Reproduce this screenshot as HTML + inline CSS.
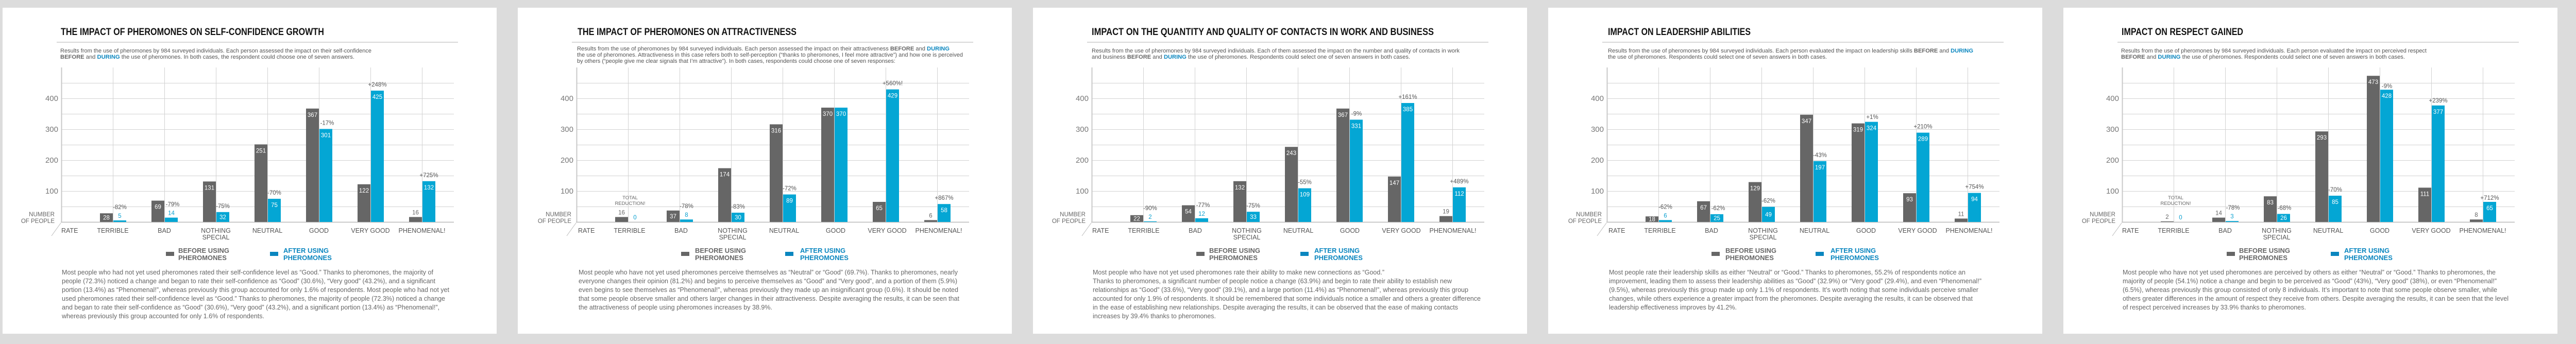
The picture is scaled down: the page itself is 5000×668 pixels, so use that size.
<!DOCTYPE html>
<html><head><meta charset="utf-8"><style>
html,body{margin:0;padding:0;background:#dcdcdc}
svg{display:block}
text{font-family:"Liberation Sans",sans-serif}
.t{font-size:19px;font-weight:bold;fill:#111}
.s{font-size:11px;fill:#555}
.b{font-weight:bold;fill:#666}
.d{font-weight:bold;fill:#0a86bf}
.tk{font-size:15px;fill:#777;text-anchor:end}
.np{font-size:11.5px;fill:#666;text-anchor:end}
.xl{font-size:12.5px;fill:#555;text-anchor:middle}
.lg{font-size:13px;font-weight:bold;fill:#666}
.lb{font-size:13px;font-weight:bold;fill:#0a86bf}
.p{font-size:12.5px;fill:#666}
.vi{font-size:11.5px;fill:#fff;text-anchor:middle}
.vg{font-size:11.5px;fill:#666;text-anchor:middle}
.vb{font-size:11.5px;fill:#0aa0d0;text-anchor:middle}
.pc{font-size:11.5px;fill:#555;text-anchor:middle}
.tr{font-size:9.5px;fill:#666;text-anchor:middle}
</style></head><body>
<svg width="5000" height="668" viewBox="0 0 5000 668" xmlns="http://www.w3.org/2000/svg">
<rect width="5000" height="668" fill="#dcdcdc"/>
<defs>
<g id="fr">
<rect x="5" y="15" width="959" height="633" fill="#fff"/>
<line x1="110" y1="82" x2="889" y2="82" stroke="#ccc" stroke-width="1.5"/>
<g stroke="#d2d2d2" stroke-width="1">
<path d="M119 161.5H881M119 191.5H881M119 221.5H881M119 251.5H881M119 281.5H881M119 311.5H881M119 341.5H881M119 371.5H881M119 401.5H881"/>
<path d="M219.5 131V431M319.5 131V431M419.5 131V431M519.5 131V431M619.5 131V431M719.5 131V431M819.5 131V431"/>
</g>
<path d="M119.5 131V432M118 431.5H881" stroke="#c8c8c8" stroke-width="2" fill="none"/>
<line x1="100" y1="458" x2="118" y2="433" stroke="#bbb" stroke-width="1"/>
<rect x="322" y="489" width="16" height="8" fill="#666"/>
<rect x="524" y="489" width="16" height="8" fill="#0a86bf"/>
</g>
</defs>

<!-- PANEL 1 -->
<g>
<use href="#fr"/>
<text class="t" x="118" y="68" textLength="511" lengthAdjust="spacingAndGlyphs">THE IMPACT OF PHEROMONES ON SELF-CONFIDENCE GROWTH</text>
<text class="s" x="117" y="102" textLength="604" lengthAdjust="spacingAndGlyphs">Results from the use of pheromones by 984 surveyed individuals. Each person assessed the impact on their self-confidence</text>
<text class="s" x="117" y="114" textLength="571" lengthAdjust="spacingAndGlyphs"><tspan class="b">BEFORE</tspan> and <tspan class="d">DURING</tspan> the use of pheromones. In both cases, the respondent could choose one of seven answers.</text>
<text class="tk" x="113" y="196">400</text><text class="tk" x="113" y="256">300</text><text class="tk" x="113" y="316">200</text><text class="tk" x="113" y="376">100</text>
<text class="np" x="106" y="420">NUMBER</text><text class="np" x="106" y="433">OF PEOPLE</text>
<text class="xl" x="119" y="452" style="text-anchor:start">RATE</text>
<text class="xl" x="219" y="452">TERRIBLE</text><text class="xl" x="319" y="452">BAD</text><text class="xl" x="419" y="452">NOTHING</text><text class="xl" x="419" y="465">SPECIAL</text><text class="xl" x="519" y="452">NEUTRAL</text><text class="xl" x="619" y="452">GOOD</text><text class="xl" x="719" y="452">VERY GOOD</text><text class="xl" x="819" y="452">PHENOMENAL!</text>
<text class="lg" x="346" y="491">BEFORE USING</text><text class="lg" x="346" y="505">PHEROMONES</text>
<text class="lb" x="550" y="491">AFTER USING</text><text class="lb" x="550" y="505">PHEROMONES</text>
<g fill="#666"><rect x="194" y="414.2" width="25" height="16.8"/><rect x="294" y="389.6" width="25" height="41.4"/><rect x="394" y="352.4" width="25" height="78.6"/><rect x="494" y="280.4" width="25" height="150.6"/><rect x="594" y="210.8" width="25" height="220.2"/><rect x="694" y="357.8" width="25" height="73.2"/><rect x="794" y="421.4" width="25" height="9.6"/></g>
<g fill="#04a6d4"><rect x="220" y="428" width="25" height="3"/><rect x="320" y="422.6" width="25" height="8.4"/><rect x="420" y="411.8" width="25" height="19.2"/><rect x="520" y="386" width="25" height="45"/><rect x="620" y="250.4" width="25" height="180.6"/><rect x="720" y="176" width="25" height="255"/><rect x="820" y="351.8" width="25" height="79.2"/></g>
<text class="vi" x="206.5" y="426.6">28</text><text class="vi" x="306.5" y="405.6">69</text><text class="vi" x="406.5" y="368.4">131</text><text class="vi" x="506.5" y="296.4">251</text><text class="vi" x="606.5" y="226.8">367</text><text class="vi" x="706.5" y="373.8">122</text><text class="vg" x="806.5" y="416.4">16</text>
<text class="vb" x="232.5" y="423">5</text><text class="vb" x="332.5" y="417.6">14</text><text class="vi" x="432.5" y="425.4">32</text><text class="vi" x="532.5" y="402">75</text><text class="vi" x="632.5" y="266.4">301</text><text class="vi" x="732.5" y="192">425</text><text class="vi" x="832.5" y="367.8">132</text>
<text class="pc" x="232.5" y="406">-82%</text><text class="pc" x="335" y="400.6">-79%</text><text class="pc" x="432.5" y="403.8">-75%</text><text class="pc" x="532.5" y="378">-70%</text><text class="pc" x="635" y="242.4">-17%</text><text class="pc" x="732.5" y="168">+248%</text><text class="pc" x="832.5" y="343.8">+725%</text>
<text class="p" x="120" y="533" textLength="721" lengthAdjust="spacingAndGlyphs">Most people who had not yet used pheromones rated their self-confidence level as “Good.” Thanks to pheromones, the majority of</text>
<text class="p" x="120" y="550" textLength="725" lengthAdjust="spacingAndGlyphs">people (72.3%) noticed a change and began to rate their self-confidence as “Good” (30.6%), “Very good” (43.2%), and a significant</text>
<text class="p" x="120" y="567" textLength="752" lengthAdjust="spacingAndGlyphs">portion (13.4%) as “Phenomenal!”, whereas previously this group accounted for only 1.6% of respondents. Most people who had not yet</text>
<text class="p" x="120" y="584" textLength="744" lengthAdjust="spacingAndGlyphs">used pheromones rated their self-confidence level as “Good.” Thanks to pheromones, the majority of people (72.3%) noticed a change</text>
<text class="p" x="120" y="601" textLength="733" lengthAdjust="spacingAndGlyphs">and began to rate their self-confidence as “Good” (30.6%), “Very good” (43.2%), and a significant portion (13.4%) as “Phenomenal!”,</text>
<text class="p" x="120" y="618" textLength="393" lengthAdjust="spacingAndGlyphs">whereas previously this group accounted for only 1.6% of respondents.</text>
</g>

<!-- PANEL 2 -->
<g transform="translate(1000,0)">
<use href="#fr"/>
<text class="t" x="121" y="68" textLength="425" lengthAdjust="spacingAndGlyphs">THE IMPACT OF PHEROMONES ON ATTRACTIVENESS</text>
<text class="s" x="120" y="98" textLength="723" lengthAdjust="spacingAndGlyphs">Results from the use of pheromones by 984 surveyed individuals. Each person assessed the impact on their attractiveness <tspan class="b">BEFORE</tspan> and <tspan class="d">DURING</tspan></text>
<text class="s" x="120" y="110" textLength="749" lengthAdjust="spacingAndGlyphs">the use of pheromones. Attractiveness in this case refers both to self-perception (“thanks to pheromones, I feel more attractive”) and how one is perceived</text>
<text class="s" x="120" y="122" textLength="618" lengthAdjust="spacingAndGlyphs">by others (“people give me clear signals that I’m attractive”). In both cases, respondents could choose one of seven responses:</text>
<text class="tk" x="113" y="196">400</text><text class="tk" x="113" y="256">300</text><text class="tk" x="113" y="316">200</text><text class="tk" x="113" y="376">100</text>
<text class="np" x="109" y="420">NUMBER</text><text class="np" x="109" y="433">OF PEOPLE</text>
<text class="xl" x="122" y="452" style="text-anchor:start">RATE</text>
<text class="xl" x="222" y="452">TERRIBLE</text><text class="xl" x="322" y="452">BAD</text><text class="xl" x="422" y="452">NOTHING</text><text class="xl" x="422" y="465">SPECIAL</text><text class="xl" x="522" y="452">NEUTRAL</text><text class="xl" x="622" y="452">GOOD</text><text class="xl" x="722" y="452">VERY GOOD</text><text class="xl" x="822" y="452">PHENOMENAL!</text>
<text class="lg" x="349" y="491">BEFORE USING</text><text class="lg" x="349" y="505">PHEROMONES</text>
<text class="lb" x="553" y="491">AFTER USING</text><text class="lb" x="553" y="505">PHEROMONES</text>
<g fill="#666"><rect x="194" y="421.4" width="25" height="9.6"/><rect x="294" y="408.8" width="25" height="22.2"/><rect x="394" y="326.6" width="25" height="104.4"/><rect x="494" y="241.4" width="25" height="189.6"/><rect x="594" y="209" width="25" height="222"/><rect x="694" y="392" width="25" height="39"/><rect x="794" y="427.4" width="25" height="3.6"/></g>
<g fill="#04a6d4"><rect x="320" y="426.2" width="25" height="4.8"/><rect x="420" y="413" width="25" height="18"/><rect x="520" y="377.6" width="25" height="53.4"/><rect x="620" y="209" width="25" height="222"/><rect x="720" y="173.6" width="25" height="257.4"/><rect x="820" y="396.2" width="25" height="34.8"/></g>
<text class="vg" x="206.5" y="416.4">16</text><text class="vi" x="306.5" y="423.9">37</text><text class="vi" x="406.5" y="342.6">174</text><text class="vi" x="506.5" y="257.4">316</text><text class="vi" x="606.5" y="225">370</text><text class="vi" x="706.5" y="408">65</text><text class="vg" x="806.5" y="422.4">6</text>
<text class="vb" x="232.5" y="426">0</text><text class="vb" x="332.5" y="421.2">8</text><text class="vi" x="432.5" y="426">30</text><text class="vi" x="532.5" y="393.6">89</text><text class="vi" x="632.5" y="225">370</text><text class="vi" x="732.5" y="189.6">429</text><text class="vi" x="832.5" y="412.2">58</text>
<text class="tr" x="223" y="387">TOTAL</text><text class="tr" x="223" y="398">REDUCTION!</text>
<text class="pc" x="332.5" y="404.2">-78%</text><text class="pc" x="432.5" y="405">-83%</text><text class="pc" x="532.5" y="369.6">-72%</text><text class="pc" x="732.5" y="165.6">+560%!</text><text class="pc" x="832.5" y="388.2">+867%</text>
<text class="p" x="123" y="533" textLength="736" lengthAdjust="spacingAndGlyphs">Most people who have not yet used pheromones perceive themselves as “Neutral” or “Good” (69.7%). Thanks to pheromones, nearly</text>
<text class="p" x="123" y="550" textLength="735" lengthAdjust="spacingAndGlyphs">everyone changes their opinion (81.2%) and begins to perceive themselves as “Good” and “Very good”, and a portion of them (5.9%)</text>
<text class="p" x="123" y="567" textLength="737" lengthAdjust="spacingAndGlyphs">even begins to see themselves as “Phenomenal!”, whereas previously they made up an insignificant group (0.6%). It should be noted</text>
<text class="p" x="123" y="584" textLength="739" lengthAdjust="spacingAndGlyphs">that some people observe smaller and others larger changes in their attractiveness. Despite averaging the results, it can be seen that</text>
<text class="p" x="123" y="601" textLength="376" lengthAdjust="spacingAndGlyphs">the attractiveness of people using pheromones increases by 38.9%.</text>
</g>

<!-- PANEL 3 -->
<g transform="translate(2000,0)">
<use href="#fr"/>
<text class="t" x="119" y="68" textLength="664" lengthAdjust="spacingAndGlyphs">IMPACT ON THE QUANTITY AND QUALITY OF CONTACTS IN WORK AND BUSINESS</text>
<text class="s" x="119" y="102" textLength="714" lengthAdjust="spacingAndGlyphs">Results from the use of pheromones by 984 surveyed individuals. Each of them assessed the impact on the number and quality of contacts in work</text>
<text class="s" x="119" y="114" textLength="618" lengthAdjust="spacingAndGlyphs">and business <tspan class="b">BEFORE</tspan> and <tspan class="d">DURING</tspan> the use of pheromones. Respondents could select one of seven answers in both cases.</text>
<text class="tk" x="113" y="196">400</text><text class="tk" x="113" y="256">300</text><text class="tk" x="113" y="316">200</text><text class="tk" x="113" y="376">100</text>
<text class="np" x="107" y="420">NUMBER</text><text class="np" x="107" y="433">OF PEOPLE</text>
<text class="xl" x="120" y="452" style="text-anchor:start">RATE</text>
<text class="xl" x="220" y="452">TERRIBLE</text><text class="xl" x="320" y="452">BAD</text><text class="xl" x="420" y="452">NOTHING</text><text class="xl" x="420" y="465">SPECIAL</text><text class="xl" x="520" y="452">NEUTRAL</text><text class="xl" x="620" y="452">GOOD</text><text class="xl" x="720" y="452">VERY GOOD</text><text class="xl" x="820" y="452">PHENOMENAL!</text>
<text class="lg" x="347" y="491">BEFORE USING</text><text class="lg" x="347" y="505">PHEROMONES</text>
<text class="lb" x="551" y="491">AFTER USING</text><text class="lb" x="551" y="505">PHEROMONES</text>
<g fill="#666"><rect x="194" y="417.8" width="25" height="13.2"/><rect x="294" y="398.6" width="25" height="32.4"/><rect x="394" y="351.8" width="25" height="79.2"/><rect x="494" y="285.2" width="25" height="145.8"/><rect x="594" y="210.8" width="25" height="220.2"/><rect x="694" y="342.8" width="25" height="88.2"/><rect x="794" y="419.6" width="25" height="11.4"/></g>
<g fill="#04a6d4"><rect x="220" y="429.8" width="25" height="1.2"/><rect x="320" y="423.8" width="25" height="7.2"/><rect x="420" y="411.2" width="25" height="19.8"/><rect x="520" y="365.6" width="25" height="65.4"/><rect x="620" y="232.4" width="25" height="198.6"/><rect x="720" y="200" width="25" height="231"/><rect x="820" y="363.8" width="25" height="67.2"/></g>
<text class="vi" x="206.5" y="428.4">22</text><text class="vi" x="306.5" y="414.6">54</text><text class="vi" x="406.5" y="367.8">132</text><text class="vi" x="506.5" y="301.2">243</text><text class="vi" x="606.5" y="226.8">367</text><text class="vi" x="706.5" y="358.8">147</text><text class="vg" x="806.5" y="414.6">19</text>
<text class="vb" x="232.5" y="424.8">2</text><text class="vb" x="332.5" y="418.8">12</text><text class="vi" x="432.5" y="425.1">33</text><text class="vi" x="532.5" y="381.6">109</text><text class="vi" x="632.5" y="248.4">331</text><text class="vi" x="732.5" y="216">385</text><text class="vi" x="832.5" y="379.8">112</text>
<text class="pc" x="232.5" y="407.8">-90%</text><text class="pc" x="335" y="401.8">-77%</text><text class="pc" x="432.5" y="403.2">-75%</text><text class="pc" x="532.5" y="357.6">-55%</text><text class="pc" x="633" y="224.4">-9%</text><text class="pc" x="732.5" y="192">+161%</text><text class="pc" x="832.5" y="355.8">+489%</text>
<text class="p" x="121" y="533" textLength="566" lengthAdjust="spacingAndGlyphs">Most people who have not yet used pheromones rate their ability to make new connections as “Good.”</text>
<text class="p" x="121" y="550" textLength="697" lengthAdjust="spacingAndGlyphs">Thanks to pheromones, a significant number of people notice a change (63.9%) and begin to rate their ability to establish new</text>
<text class="p" x="121" y="567" textLength="729" lengthAdjust="spacingAndGlyphs">relationships as “Good” (33.6%), “Very good” (39.1%), and a large portion (11.4%) as “Phenomenal!”, whereas previously this group</text>
<text class="p" x="121" y="584" textLength="753" lengthAdjust="spacingAndGlyphs">accounted for only 1.9% of respondents. It should be remembered that some individuals notice a smaller and others a greater difference</text>
<text class="p" x="121" y="601" textLength="709" lengthAdjust="spacingAndGlyphs">in the ease of establishing new relationships. Despite averaging the results, it can be observed that the ease of making contacts</text>
<text class="p" x="121" y="618" textLength="239" lengthAdjust="spacingAndGlyphs">increases by 39.4% thanks to pheromones.</text>
</g>

<!-- PANEL 4 -->
<g transform="translate(3000,0)">
<use href="#fr"/>
<text class="t" x="121" y="68" textLength="277" lengthAdjust="spacingAndGlyphs">IMPACT ON LEADERSHIP ABILITIES</text>
<text class="s" x="121" y="102" textLength="709" lengthAdjust="spacingAndGlyphs">Results from the use of pheromones by 984 surveyed individuals. Each person evaluated the impact on leadership skills <tspan class="b">BEFORE</tspan> and <tspan class="d">DURING</tspan></text>
<text class="s" x="121" y="114" textLength="425" lengthAdjust="spacingAndGlyphs">the use of pheromones. Respondents could select one of seven answers in both cases.</text>
<text class="tk" x="113" y="196">400</text><text class="tk" x="113" y="256">300</text><text class="tk" x="113" y="316">200</text><text class="tk" x="113" y="376">100</text>
<text class="np" x="109" y="420">NUMBER</text><text class="np" x="109" y="433">OF PEOPLE</text>
<text class="xl" x="122" y="452" style="text-anchor:start">RATE</text>
<text class="xl" x="222" y="452">TERRIBLE</text><text class="xl" x="322" y="452">BAD</text><text class="xl" x="422" y="452">NOTHING</text><text class="xl" x="422" y="465">SPECIAL</text><text class="xl" x="522" y="452">NEUTRAL</text><text class="xl" x="622" y="452">GOOD</text><text class="xl" x="722" y="452">VERY GOOD</text><text class="xl" x="822" y="452">PHENOMENAL!</text>
<text class="lg" x="349" y="491">BEFORE USING</text><text class="lg" x="349" y="505">PHEROMONES</text>
<text class="lb" x="553" y="491">AFTER USING</text><text class="lb" x="553" y="505">PHEROMONES</text>
<g fill="#666"><rect x="194" y="420.2" width="25" height="10.8"/><rect x="294" y="390.8" width="25" height="40.2"/><rect x="394" y="353.6" width="25" height="77.4"/><rect x="494" y="222.8" width="25" height="208.2"/><rect x="594" y="239.6" width="25" height="191.4"/><rect x="694" y="375.2" width="25" height="55.8"/><rect x="794" y="424.4" width="25" height="6.6"/></g>
<g fill="#04a6d4"><rect x="220" y="427.4" width="25" height="3.6"/><rect x="320" y="416" width="25" height="15"/><rect x="420" y="401.6" width="25" height="29.4"/><rect x="520" y="312.8" width="25" height="118.2"/><rect x="620" y="236.6" width="25" height="194.4"/><rect x="720" y="257.6" width="25" height="173.4"/><rect x="820" y="374.6" width="25" height="56.4"/></g>
<text class="vi" x="206.5" y="429.6">18</text><text class="vi" x="306.5" y="406.8">67</text><text class="vi" x="406.5" y="369.6">129</text><text class="vi" x="506.5" y="238.8">347</text><text class="vi" x="606.5" y="255.6">319</text><text class="vi" x="706.5" y="391.2">93</text><text class="vg" x="806.5" y="419.4">11</text>
<text class="vb" x="232.5" y="422.4">6</text><text class="vi" x="332.5" y="427.5">25</text><text class="vi" x="432.5" y="420.3">49</text><text class="vi" x="532.5" y="328.8">197</text><text class="vi" x="632.5" y="252.6">324</text><text class="vi" x="732.5" y="273.6">289</text><text class="vi" x="832.5" y="390.6">94</text>
<text class="pc" x="232.5" y="405.4">-62%</text><text class="pc" x="335" y="408">-62%</text><text class="pc" x="432.5" y="393.6">-62%</text><text class="pc" x="532.5" y="304.8">-43%</text><text class="pc" x="634" y="231">+1%</text><text class="pc" x="732.5" y="249.6">+210%</text><text class="pc" x="832.5" y="366.6">+754%</text>
<text class="p" x="123" y="533" textLength="692" lengthAdjust="spacingAndGlyphs">Most people rate their leadership skills as either “Neutral” or “Good.” Thanks to pheromones, 55.2% of respondents notice an</text>
<text class="p" x="123" y="550" textLength="723" lengthAdjust="spacingAndGlyphs">improvement, leading them to assess their leadership abilities as “Good” (32.9%) or “Very good” (29.4%), and even “Phenomenal!”</text>
<text class="p" x="123" y="567" textLength="717" lengthAdjust="spacingAndGlyphs">(9.5%), whereas previously this group made up only 1.1% of respondents. It’s worth noting that some individuals perceive smaller</text>
<text class="p" x="123" y="584" textLength="706" lengthAdjust="spacingAndGlyphs">changes, while others experience a greater impact from the pheromones. Despite averaging the results, it can be observed that</text>
<text class="p" x="123" y="601" textLength="248" lengthAdjust="spacingAndGlyphs">leadership effectiveness improves by 41.2%.</text>
</g>

<!-- PANEL 5 -->
<g transform="translate(4000,0)">
<use href="#fr"/>
<text class="t" x="118" y="68" textLength="236" lengthAdjust="spacingAndGlyphs">IMPACT ON RESPECT GAINED</text>
<text class="s" x="117" y="102" textLength="593" lengthAdjust="spacingAndGlyphs">Results from the use of pheromones by 984 surveyed individuals. Each person evaluated the impact on perceived respect</text>
<text class="s" x="117" y="114" textLength="551" lengthAdjust="spacingAndGlyphs"><tspan class="b">BEFORE</tspan> and <tspan class="d">DURING</tspan> the use of pheromones. Respondents could select one of seven answers in both cases.</text>
<text class="tk" x="113" y="196">400</text><text class="tk" x="113" y="256">300</text><text class="tk" x="113" y="316">200</text><text class="tk" x="113" y="376">100</text>
<text class="np" x="106" y="420">NUMBER</text><text class="np" x="106" y="433">OF PEOPLE</text>
<text class="xl" x="119" y="452" style="text-anchor:start">RATE</text>
<text class="xl" x="219" y="452">TERRIBLE</text><text class="xl" x="319" y="452">BAD</text><text class="xl" x="419" y="452">NOTHING</text><text class="xl" x="419" y="465">SPECIAL</text><text class="xl" x="519" y="452">NEUTRAL</text><text class="xl" x="619" y="452">GOOD</text><text class="xl" x="719" y="452">VERY GOOD</text><text class="xl" x="819" y="452">PHENOMENAL!</text>
<text class="lg" x="346" y="491">BEFORE USING</text><text class="lg" x="346" y="505">PHEROMONES</text>
<text class="lb" x="550" y="491">AFTER USING</text><text class="lb" x="550" y="505">PHEROMONES</text>
<g fill="#666"><rect x="194" y="429.8" width="25" height="1.2"/><rect x="294" y="422.6" width="25" height="8.4"/><rect x="394" y="381.2" width="25" height="49.8"/><rect x="494" y="255.2" width="25" height="175.8"/><rect x="594" y="147.2" width="25" height="283.8"/><rect x="694" y="364.4" width="25" height="66.6"/><rect x="794" y="426.2" width="25" height="4.8"/></g>
<g fill="#04a6d4"><rect x="320" y="429.2" width="25" height="1.8"/><rect x="420" y="415.4" width="25" height="15.6"/><rect x="520" y="380" width="25" height="51"/><rect x="620" y="174.2" width="25" height="256.8"/><rect x="720" y="204.8" width="25" height="226.2"/><rect x="820" y="392" width="25" height="39"/></g>
<text class="vg" x="206.5" y="424.8">2</text><text class="vg" x="306.5" y="417.6">14</text><text class="vi" x="406.5" y="397.2">83</text><text class="vi" x="506.5" y="271.2">293</text><text class="vi" x="606.5" y="163.2">473</text><text class="vi" x="706.5" y="380.4">111</text><text class="vg" x="806.5" y="421.2">8</text>
<text class="vb" x="232.5" y="426">0</text><text class="vb" x="332.5" y="424.2">3</text><text class="vi" x="432.5" y="427.2">26</text><text class="vi" x="532.5" y="396">85</text><text class="vi" x="632.5" y="190.2">428</text><text class="vi" x="732.5" y="220.8">377</text><text class="vi" x="832.5" y="408">65</text>
<text class="tr" x="223" y="387">TOTAL</text><text class="tr" x="223" y="398">REDUCTION!</text>
<text class="pc" x="334" y="407.2">-78%</text><text class="pc" x="434" y="407.4">-68%</text><text class="pc" x="532.5" y="372">-70%</text><text class="pc" x="633" y="171">-9%</text><text class="pc" x="732.5" y="198.8">+239%</text><text class="pc" x="832.5" y="388">+712%</text>
<text class="p" x="120" y="533" textLength="724" lengthAdjust="spacingAndGlyphs">Most people who have not yet used pheromones are perceived by others as either “Neutral” or “Good.” Thanks to pheromones, the</text>
<text class="p" x="120" y="550" textLength="726" lengthAdjust="spacingAndGlyphs">majority of people (54.1%) notice a change and begin to be perceived as “Good” (43%), “Very good” (38%), or even “Phenomenal!”</text>
<text class="p" x="120" y="567" textLength="727" lengthAdjust="spacingAndGlyphs">(6.5%), whereas previously this group consisted of only 8 individuals. It’s important to note that some people observe smaller, while</text>
<text class="p" x="120" y="584" textLength="749" lengthAdjust="spacingAndGlyphs">others greater differences in the amount of respect they receive from others. Despite averaging the results, it can be seen that the level</text>
<text class="p" x="120" y="601" textLength="356" lengthAdjust="spacingAndGlyphs">of respect perceived increases by 33.9% thanks to pheromones.</text>
</g>
</svg>
</body></html>
